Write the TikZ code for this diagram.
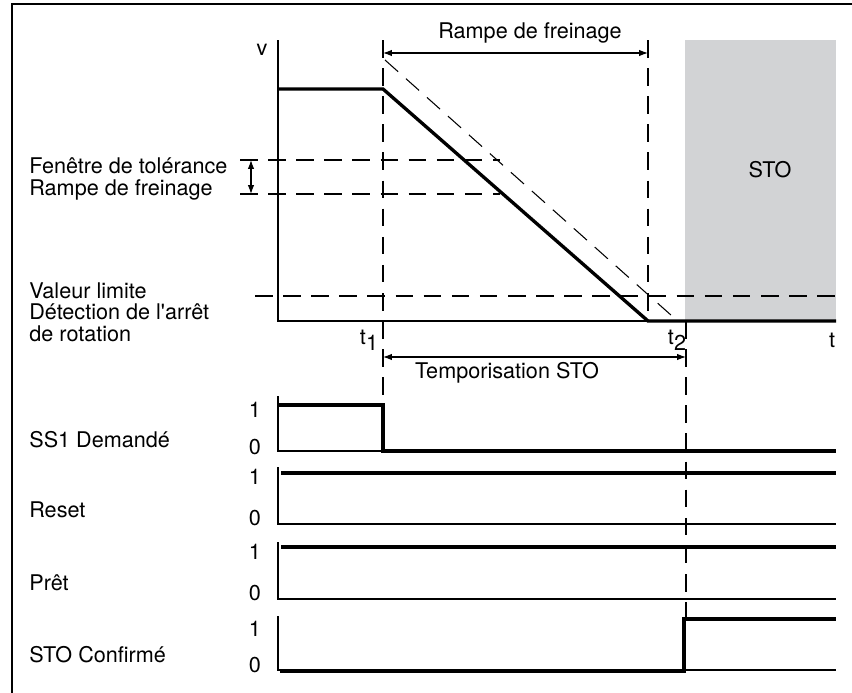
\documentclass[tikz,border=0pt]{standalone}
\usepackage{fontspec}
\setmainfont{TeX Gyre Heros}
\usetikzlibrary{arrows.meta}
\definecolor{stogray}{RGB}{210,211,213}

\begin{document}
\begin{tikzpicture}[x=0.02cm, y=-0.02cm, font=\fontsize{12.3}{12.3}\selectfont,
    axis/.style = {line width=0.7pt},
    sig/.style = {line width=1.9pt},
    guide/.style = {line width=0.6pt, dash pattern=on 10pt off 6pt},
    span/.style = {line width=0.6pt, {Latex[length=5pt,width=3.6pt]}-{Latex[length=5pt,width=3.6pt]}},
    lbl/.style = {anchor=west, align=left, inner sep=0pt}]
    \useasboundingbox (0,0) rectangle (852,693);

    % frame
    \draw[line width=0.9pt] (12,693) -- (12,4) -- (852,4);

    % time marks
    \coordinate (t1) at (383,0);
    \coordinate (t2) at (648,0);
    \coordinate (ts) at (686,0);

    % speed diagram
    \fill[stogray] (685,40) rectangle (836,321);
    \node (sto) at (770,170) {STO};
    \draw[axis] (278,40) -- (278,321) -- (836,321);
    \node (v) at (262,50) {v};
    \node (t) at (832,340) {t};
    \draw[guide] (t1 |- 0,40) -- (t1 |- 0,405);
    \draw[guide] (t2 |- 0,40) -- (t2 |- 0,321);
    \draw[guide] (ts |- 0,321) -- (ts |- 0,619);
    \draw[guide] (240,160) -- (500,160);
    \draw[guide] (240,194) -- (500,194);
    \draw[guide] (255,296) -- (836,296);
    \draw[guide] (385,60) -- (672,316);
    \draw[sig] (278,89) -- (t1 |- 0,89) -- (t2 |- 0,321) -- (836,321);
    \draw[span] (251,160) -- (251,194);
    \draw[span] (t1 |- 0,53) -- (t2 |- 0,53);
    \node (ramp) at (530,33) {Rampe de freinage};
    \draw[span] (t1 |- 0,357) -- (ts |- 0,357);
    \node (tempo) at (507,373) {Temporisation STO};
    \node (lt1) at (369,340) {t\raisebox{-0.55ex}{1}};
    \node (lt2) at (677,340) {t\raisebox{-0.55ex}{2}};

    \node[lbl] (tol) at (29,179) {Fenêtre de tolérance\\Rampe de freinage};
    \node[lbl] (lim) at (29,312) {Valeur limite\\Détection de l\textquotesingle arrêt\\de rotation};

    % SS1 Demandé
    \node[lbl] (ss1) at (29,440) {SS1 Demandé};
    \node (ss1a) at (255,410) {1};
    \node (ss1b) at (255,447) {0};
    \draw[axis] (278,396) -- (278,451) -- (836,451);
    \draw[sig] (278,405) -- (t1 |- 0,405) -- (t1 |- 0,451) -- (836,451);

    % Reset
    \node[lbl] (reset) at (29,510) {Reset};
    \node (reseta) at (255,477) {1};
    \node (resetb) at (255,518) {0};
    \draw[axis] (278,467) -- (278,524) -- (836,524);
    \draw[sig] (281,473) -- (836,473);

    % Prêt
    \node[lbl] (pret) at (29,583) {Prêt};
    \node (preta) at (255,552) {1};
    \node (pretb) at (255,593) {0};
    \draw[axis] (278,542) -- (278,599) -- (836,599);
    \draw[sig] (281,547) -- (836,547);

    % STO Confirmé
    \node[lbl] (stoc) at (29,655) {STO Confirmé};
    \node (stoca) at (255,629) {1};
    \node (stocb) at (255,665) {0};
    \draw[axis] (278,616) -- (278,670) -- (836,670);
    \draw[sig] (280,671) -- (684,671) -- (684,619) -- (836,619);
\end{tikzpicture}
\end{document}
